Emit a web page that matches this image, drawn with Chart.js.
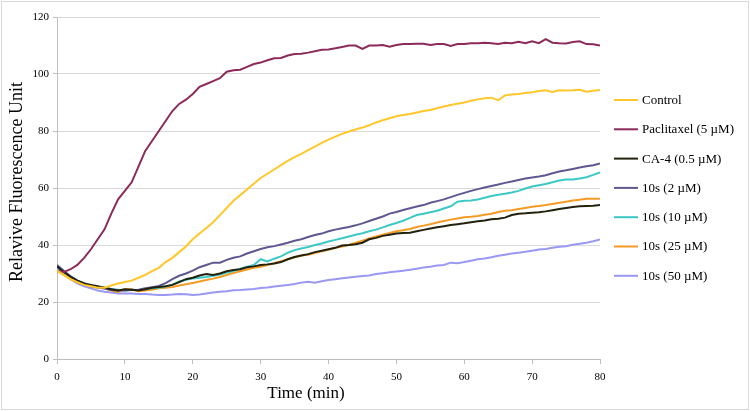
<!DOCTYPE html>
<html>
<head>
<meta charset="utf-8">
<script src="https://cdn.jsdelivr.net/npm/chart.js@4/dist/chart.umd.min.js"></script>
<style>
  html, body { margin: 0; padding: 0; background: #ffffff; }
  #wrap { width: 750px; height: 411px; position: relative; }
</style>
</head>
<body>
<div id="wrap"><canvas id="c" width="750" height="411"></canvas></div>
<script>
const times = [0,1,2,3,4,5,6,7,8,9,10,11,12,13,14,15,16,17,18,19,20,21,22,23,24,25,26,27,28,29,30,31,32,33,34,35,36,37,38,39,40,41,42,43,44,45,46,47,48,49,50,51,52,53,54,55,56,57,58,59,60,61,62,63,64,65,66,67,68,69,70,71,72,73,74,75,76,77,78,79,80];

const seriesLabels = ["Control", "Paclitaxel (5 \u00b5M)", "CA-4 (0.5 \u00b5M)", "10s (2 \u00b5M)", "10s (10 \u00b5M)", "10s (25 \u00b5M)", "10s (50 \u00b5M)"];

const control = [31,29.5,28,27,26,25.5,25,25,25.8,26.5,27,27.5,28.5,29.5,30.8,32,34,35.5,37.5,39.5,42,44,46,48,50.5,53,55.5,57.5,59.5,61.5,63.5,65,66.5,68,69.5,70.8,72,73.3,74.5,75.8,77,78,79,79.8,80.5,81.2,82,83,83.8,84.5,85.2,85.6,86,86.5,87,87.4,88,88.6,89.1,89.6,90,90.6,91.1,91.5,91.7,90.8,92.5,92.8,93,93.3,93.6,94,94.3,93.7,94.3,94.2,94.3,94.5,93.8,94.1,94.4];

const paclitaxel = [31,30.5,31.5,33,35.5,38.5,42,45.5,51,56,59,62,67.5,73,76.5,80,83.5,87,89.5,91,93,95.5,96.5,97.5,98.5,100.8,101.3,101.5,102.5,103.5,104,104.8,105.5,105.6,106.5,107,107.1,107.5,108,108.5,108.6,109,109.5,110,110,108.8,110,110,110.2,109.6,110.2,110.5,110.5,110.6,110.6,110.2,110.5,110.5,109.8,110.5,110.5,110.8,110.8,111,110.8,110.5,111,110.8,111.3,110.8,111.5,110.8,112.2,111,110.8,110.7,111.2,111.5,110.5,110.4,110];

const ca4 = [32.5,30.5,28.8,27.5,26.5,26,25.5,25,24.5,24,24.5,24.3,24,24.5,25,25.3,25.5,26,27,28,28.5,29.3,29.8,29.5,30,30.8,31.2,31.5,32.2,32.5,33,33.2,33.5,34,35,35.8,36.3,36.8,37.5,38,38.5,39,39.8,40,40.3,40.8,42,42.5,43.2,43.6,44,44.2,44.3,44.8,45.3,45.8,46.2,46.6,47,47.3,47.6,48,48.3,48.6,49,49.2,49.6,50.5,51,51.1,51.3,51.5,51.8,52.2,52.6,53,53.3,53.6,53.7,53.8,54];

const s10_2 = [33,31,29,27.5,26.5,25.5,25,24.7,24.2,24,24,24.2,24.3,24.8,25.2,25.6,26.6,28,29.2,30,31,32.2,33,33.8,33.8,34.8,35.5,36,37,37.8,38.6,39.2,39.6,40.2,40.8,41.5,42,42.8,43.5,44,44.8,45.4,45.9,46.3,46.9,47.6,48.4,49.2,50,51,51.6,52.3,52.9,53.5,54,54.8,55.4,56,56.8,57.6,58.3,59,59.6,60.2,60.7,61.2,61.8,62.3,62.8,63.3,63.7,64,64.5,65.2,65.8,66.2,66.7,67.2,67.6,68,68.6];

const s10_10 = [32.5,30.5,29,27.5,26.5,25.8,25.3,25,24.6,24.3,24,24.3,24.2,24.5,24.8,25,25.4,26,27.2,27.8,28.2,28.5,28.8,29.2,29.6,30.3,30.9,31.7,32.4,33,35,34.2,35.2,36,37.3,38.2,38.8,39.3,40,40.5,41.2,41.8,42.4,43,43.6,44.1,44.8,45.4,46.2,47,47.7,48.5,49.5,50.5,51,51.5,52,52.8,53.6,55.2,55.5,55.6,56,56.6,57.2,57.6,58,58.4,59,59.8,60.5,61,61.4,62,62.6,63,63,63.3,63.8,64.6,65.5];

const s10_25 = [31,29.5,28,27,26.2,25.7,25.2,24.8,24,23.5,24.5,24.5,23.8,24,24.3,24.8,25,25.3,25.8,26.2,26.7,27.2,27.7,28.2,28.8,29.5,30.2,30.8,31.4,32,32.4,33,33.6,34.3,35,35.7,36.3,36.6,37.2,37.8,38.3,39,39.5,40,40.8,41.5,42.3,43,43.6,44.2,44.8,45.2,45.6,46.3,46.8,47.3,47.9,48.4,48.9,49.3,49.7,49.9,50.2,50.6,51,51.6,52,52.2,52.6,53,53.4,53.7,54,54.4,54.8,55.2,55.6,55.9,56.2,56.2,56.2];

const s10_50 = [32,30,28,26.5,25.5,24.8,24,23.6,23.3,23,23,23,22.8,22.8,22.6,22.5,22.5,22.6,22.8,22.7,22.5,22.6,23,23.3,23.6,23.8,24.1,24.2,24.4,24.6,24.9,25.1,25.4,25.7,26,26.3,26.8,27.1,26.8,27.3,27.7,28,28.3,28.6,28.9,29.1,29.3,29.8,30.1,30.4,30.7,31,31.3,31.7,32.1,32.4,32.8,33,33.8,33.6,34,34.5,35,35.3,35.7,36.2,36.6,37,37.3,37.6,38,38.4,38.6,39,39.4,39.6,40.1,40.4,40.8,41.3,41.9];

const yTicks = [0,20,40,60,80,100,120];
const xTicks = [0,10,20,30,40,50,60,70,80];

const seriesValues = [control, paclitaxel, ca4, s10_2, s10_10, s10_25, s10_50];
const seriesColors = ["#FFC729", "#8C2A5A", "#22220E", "#5E5890", "#3CC9C6", "#F59B25", "#9A98F2"];

const datasets = seriesValues.map((vals, i) => ({
  label: seriesLabels[i],
  data: vals.map((v, j) => ({ x: times[j], y: v })),
  borderColor: seriesColors[i],
  backgroundColor: seriesColors[i],
  borderWidth: 2,
  pointRadius: 0,
  tension: 0,
  fill: false
}));

const SERIF = "'Liberation Serif', 'Times New Roman', serif";

const decorPlugin = {
  id: 'decor',
  beforeDraw(chart) {
    const ctx = chart.ctx;
    ctx.save();
    ctx.fillStyle = '#ffffff';
    ctx.fillRect(0, 0, chart.width, chart.height);
    ctx.strokeStyle = '#d9d9d9';
    ctx.lineWidth = 1;
    ctx.strokeRect(1.5, 1.5, chart.width - 3, chart.height - 3);
    ctx.restore();
  },
  afterDraw(chart) {
    const ctx = chart.ctx;
    ctx.save();
    ctx.fillStyle = '#000000';
    // x title
    ctx.font = "17px " + SERIF;
    ctx.textAlign = 'center';
    ctx.textBaseline = 'middle';
    ctx.fillText("Time (min)", 306, 394);
    // y title
    ctx.save();
    ctx.font = "18px " + SERIF;
    ctx.translate(17, 182);
    ctx.rotate(-Math.PI / 2);
    ctx.fillText("Relavive Fluorescence Unit", 0, 0);
    ctx.restore();
    // legend
    ctx.font = "13px " + SERIF;
    ctx.textAlign = 'left';
    ctx.textBaseline = 'middle';
    const step = 29.3;
    const y0 = 100;
    chart.data.datasets.forEach((ds, i) => {
      const y = y0 + i * step;
      ctx.strokeStyle = ds.borderColor;
      ctx.lineWidth = 2;
      ctx.beginPath();
      ctx.moveTo(614, y);
      ctx.lineTo(638, y);
      ctx.stroke();
      ctx.fillStyle = '#000000';
      ctx.fillText(ds.label, 642, y + 0.5);
    });
    ctx.restore();
  }
};

new Chart(document.getElementById('c'), {
  type: 'line',
  data: { datasets },
  plugins: [decorPlugin],
  options: {
    responsive: false,
    animation: false,
    devicePixelRatio: 1,
    layout: { padding: { left: 0, right: 150, top: 17, bottom: 0 } },
    plugins: { legend: { display: false }, tooltip: { enabled: false } },
    scales: {
      x: {
        type: 'linear',
        min: 0, max: 80,
        afterFit(scale) { scale.height = 52; },
        afterBuildTicks(scale) { scale.ticks = xTicks.map(v => ({ value: v })); },
        grid: { display: true, drawOnChartArea: false, drawTicks: true, tickLength: 5, color: '#bfbfbf' },
        border: { display: true, color: '#bfbfbf', width: 1 },
        ticks: { color: '#000000', font: { family: SERIF, size: 11 }, padding: 7, maxRotation: 0 }
      },
      y: {
        type: 'linear',
        min: 0, max: 120,
        afterFit(scale) { scale.width = 57; },
        afterBuildTicks(scale) { scale.ticks = yTicks.map(v => ({ value: v })); },
        grid: { display: true, color: '#d9d9d9', drawTicks: true, tickLength: 4, tickColor: '#bfbfbf' },
        border: { display: true, color: '#bfbfbf', width: 1 },
        ticks: { color: '#000000', font: { family: SERIF, size: 11 }, padding: 4 }
      }
    }
  }
});
</script>
</body>
</html>
